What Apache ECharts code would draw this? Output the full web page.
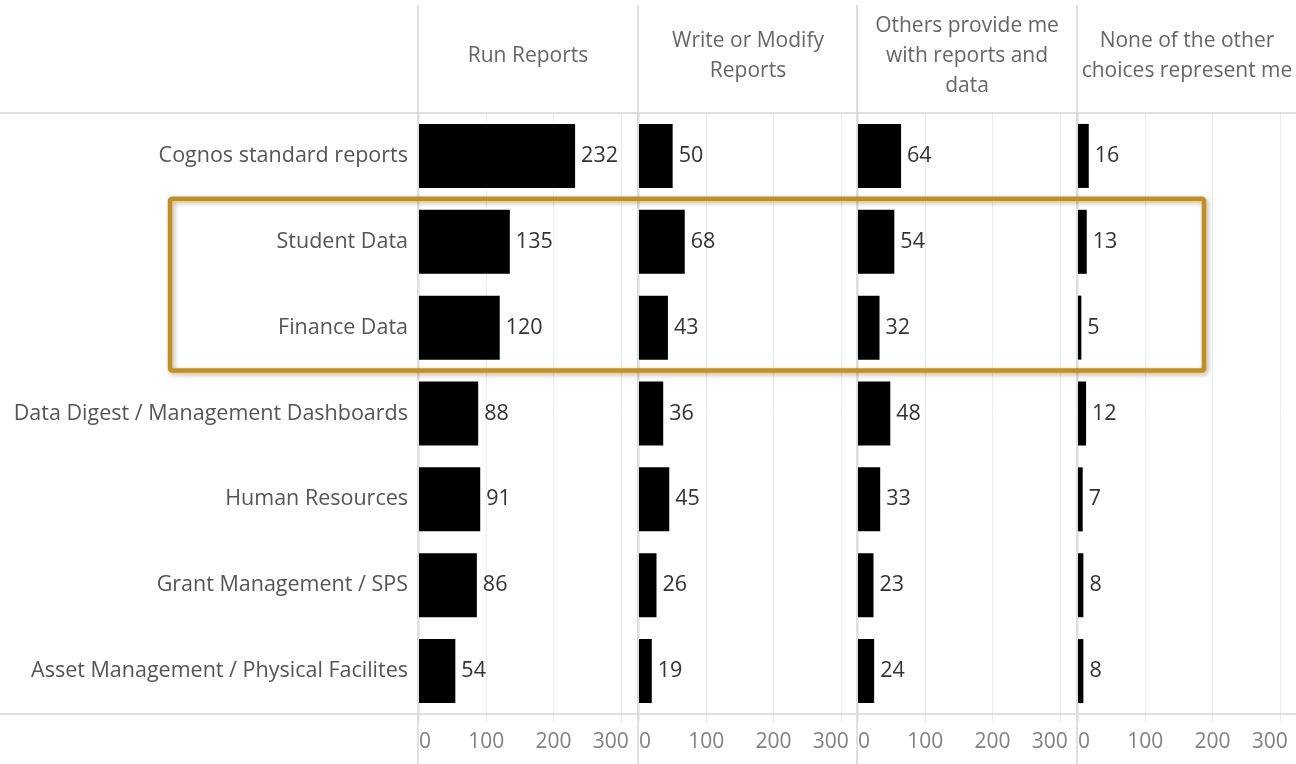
<!DOCTYPE html>
<html>
<head>
<meta charset="utf-8">
<script src="https://cdn.jsdelivr.net/npm/echarts@6/dist/echarts.min.js"></script>
<style>
html,body{margin:0;padding:0;background:#fff;}
#chart{width:1296px;height:764px;}
</style>
</head>
<body>
<div id="chart"></div>
<script>
// ---- data ----
const categories = [
  'Cognos standard reports',
  'Student Data',
  'Finance Data',
  'Data Digest / Management Dashboards',
  'Human Resources',
  'Grant Management / SPS',
  'Asset Management / Physical Facilites'
];
const panelTitles = [
  'Run Reports',
  'Write or Modify\nReports',
  'Others provide me\nwith reports and\ndata',
  'None of the other\nchoices represent me'
];
const runReports   = [232, 135, 120, 88, 91, 86, 54];
const writeModify  = [50, 68, 43, 36, 45, 26, 19];
const othersProvide= [64, 54, 32, 48, 33, 23, 24];
const noneOfOther  = [16, 13, 5, 12, 7, 8, 8];
const tickValues   = [0, 100, 200, 300];
const highlighted  = ['Student Data', 'Finance Data'];

const seriesData = [runReports, writeModify, othersProvide, noneOfOther];

// ---- layout ----
const FONT = 'Open Sans';
const panelLeft = [419, 639, 858, 1078];
const panelWidth = 218;
const plotTop = 113, plotBottom = 714;
const axisMax = 324;

const grids = [], xAxes = [], yAxes = [], series = [];
seriesData.forEach((vals, i) => {
  grids.push({left: panelLeft[i], top: plotTop, width: panelWidth, height: plotBottom - plotTop, containLabel: false});
  xAxes.push({
    type: 'value', gridIndex: i, min: 0, max: axisMax, interval: 100,
    axisLine: {show: false},
    axisTick: {show: true, length: 8, lineStyle: {color: '#ececec'}},
    splitLine: {show: true, lineStyle: {color: '#ececec', width: 1}},
    axisLabel: {
      color: '#808080', fontFamily: FONT, fontSize: 21, margin: 18,
      showMaxLabel: false,
      alignMinLabel: 'left',
      formatter: v => {
        if (tickValues.indexOf(v) < 0) return '';
        return v === tickValues[tickValues.length - 1] ? '{last|' + v + '}' : String(v);
      },
      rich: {last: {color: '#808080', fontFamily: FONT, fontSize: 21, padding: [0, 20, 0, 0]}}
    }
  });
  yAxes.push({
    type: 'category', gridIndex: i, data: categories, inverse: true,
    axisLine: {show: false}, axisTick: {show: false},
    axisLabel: {show: i === 0, color: '#555', fontFamily: FONT, fontSize: 21.5, margin: 11}
  });
  series.push({
    type: 'bar', xAxisIndex: i, yAxisIndex: i, data: vals,
    barWidth: 64,
    itemStyle: {color: '#000'},
    label: {show: true, position: 'right', distance: 6, color: '#333', fontFamily: FONT, fontSize: 21.5},
    silent: true
  });
});

const lineColor = '#d6d6d6';
const graphics = [];
graphics.push({type: 'line', shape: {x1: 0, y1: plotTop, x2: 1296, y2: plotTop}, style: {stroke: lineColor, lineWidth: 1.5}, z: 5});
graphics.push({type: 'line', shape: {x1: 0, y1: plotBottom, x2: 1296, y2: plotBottom}, style: {stroke: lineColor, lineWidth: 1.5}, z: 5});
panelLeft.forEach(x => {
  graphics.push({type: 'line', shape: {x1: x - 1, y1: 5, x2: x - 1, y2: 764}, style: {stroke: lineColor, lineWidth: 1.5}, z: 5});
});
panelTitles.forEach((t, i) => {
  graphics.push({
    type: 'text', x: panelLeft[i] + panelWidth / 2, y: 56,
    style: {text: t, align: 'center', verticalAlign: 'middle', lineHeight: 30,
            fill: '#666', font: '21px "' + FONT + '"'}
  });
});

const chart = echarts.init(document.getElementById('chart'), null, {renderer: 'canvas'});
chart.setOption({
  animation: false,
  backgroundColor: '#fff',
  grid: grids, xAxis: xAxes, yAxis: yAxes, series: series,
  graphic: graphics
});

const yA = chart.convertToPixel({yAxisIndex: 0}, highlighted[0]);
const yB = chart.convertToPixel({yAxisIndex: 0}, highlighted[highlighted.length - 1]);
const band = (plotBottom - plotTop) / categories.length;
graphics.push({
  type: 'rect',
  shape: {x: 170, y: yA - band / 2, width: 1034, height: (yB - yA) + band, r: 2},
  style: {fill: 'none', stroke: '#C4901C', lineWidth: 4.5,
          shadowBlur: 5, shadowColor: 'rgba(0,0,0,0.3)', shadowOffsetX: 2, shadowOffsetY: 2},
  z: 10
});
chart.setOption({graphic: graphics});
</script>
</body>
</html>
